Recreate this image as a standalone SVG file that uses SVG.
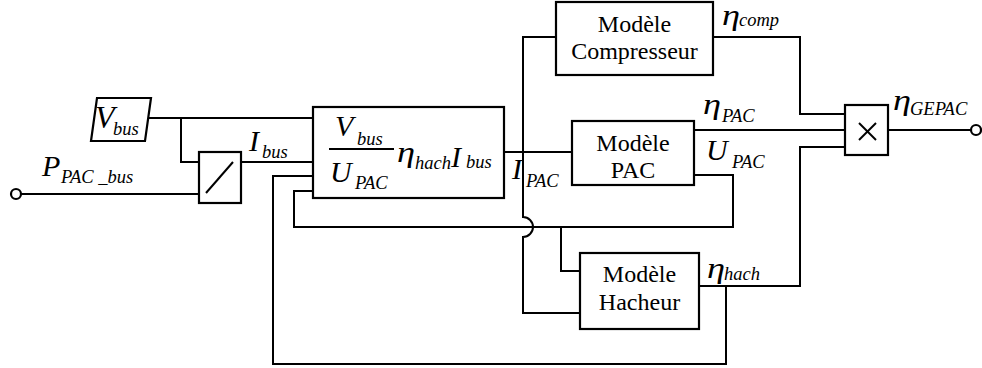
<svg xmlns="http://www.w3.org/2000/svg" width="982" height="368" viewBox="0 0 982 368">
  <style>
    .box { fill: #fff; stroke: #000; stroke-width: 2.2; }
    .wire { fill: none; stroke: #000; stroke-width: 2; }
    .name { font-family: "Liberation Serif", "Times New Roman", serif; font-size: 24px; fill: #000; text-anchor: middle; }
    .sym { font-family: "Liberation Serif", "Times New Roman", serif; font-style: italic; font-size: 30px; fill: #000; }
    .eta { font-family: "Liberation Serif", "Times New Roman", serif; font-style: italic; font-size: 29px; fill: #000; }
    .sub { font-family: "Liberation Serif", "Times New Roman", serif; font-style: italic; font-size: 18.5px; fill: #000; }
  </style>

  <rect width="982" height="368" fill="#fff"/>

  <!-- connectors -->
  <g id="connectors">
    <!-- P_PAC_bus input to divider -->
    <line class="wire" x1="21" y1="194" x2="199" y2="194"/>
    <!-- V_bus to main block, with tap to divider -->
    <line class="wire" x1="147" y1="118" x2="313" y2="118"/>
    <polyline class="wire" points="181,118 181,162 199,162"/>
    <!-- I_bus -->
    <line class="wire" x1="241" y1="162" x2="313" y2="162"/>
    <!-- I_PAC from main block to PAC model -->
    <line class="wire" x1="504" y1="152" x2="572" y2="152"/>
    <!-- I_PAC bus: compressor, PAC crossing, hop, hacheur -->
    <path class="wire" d="M556,37 H523 V217 A10,10 0 0 1 523,237 V313 H580"/>
    <!-- U_PAC feedback to main block and hacheur -->
    <path class="wire" d="M694,175 H733 V227 H294 V191 H313"/>
    <polyline class="wire" points="561,227 561,271 580,271"/>
    <!-- eta_comp to multiplier -->
    <polyline class="wire" points="713,37 800,37 800,114 845,114"/>
    <!-- eta_PAC to multiplier -->
    <line class="wire" x1="694" y1="130" x2="845" y2="130"/>
    <!-- eta_hach to multiplier and back to main block -->
    <polyline class="wire" points="699,286 800,286 800,147 845,147"/>
    <polyline class="wire" points="726,286 726,364 273,364 273,176 313,176"/>
    <!-- eta_GEPAC output -->
    <line class="wire" x1="888" y1="130" x2="971" y2="130"/>
  </g>

  <!-- input terminal -->
  <g id="in-terminal">
    <circle class="box" cx="16" cy="194" r="5"/>
  </g>

  <!-- V_bus source -->
  <g id="vbus">
    <polygon class="box" points="97,98 151,98 145,141 91,141"/>
    <text class="sym" x="95" y="128" style="font-size:32px">V</text>
    <text class="sub" x="113" y="135">bus</text>
  </g>

  <!-- divider -->
  <g id="divider">
    <rect class="box" x="199" y="152" width="42" height="51"/>
    <line class="wire" x1="206" y1="193" x2="233" y2="162"/>
  </g>

  <!-- main converter block -->
  <g id="main-block">
    <rect class="box" x="313" y="107" width="191" height="91"/>
    <text class="sym" x="335" y="136">V</text>
    <text class="sub" x="357" y="145">bus</text>
    <line class="wire" x1="329" y1="149" x2="394" y2="149"/>
    <text class="sym" x="330" y="182">U</text>
    <text class="sub" x="355" y="189">PAC</text>
    <text class="eta" x="397" y="162" textLength="18" lengthAdjust="spacingAndGlyphs">η</text>
    <text class="sub" x="415" y="169">hach</text>
    <text class="sym" x="451" y="167">I</text>
    <text class="sub" x="466" y="168">bus</text>
  </g>

  <!-- compressor model -->
  <g id="compresseur">
    <rect class="box" x="556" y="2" width="157" height="73"/>
    <text class="name" x="634.5" y="32">Modèle</text>
    <text class="name" x="634.5" y="59">Compresseur</text>
  </g>

  <!-- fuel cell model -->
  <g id="pac">
    <rect class="box" x="572" y="121" width="122" height="64"/>
    <text class="name" x="633" y="151">Modèle</text>
    <text class="name" x="633" y="178">PAC</text>
  </g>

  <!-- chopper model -->
  <g id="hacheur">
    <rect class="box" x="580" y="253" width="119" height="76"/>
    <text class="name" x="639.5" y="282">Modèle</text>
    <text class="name" x="639.5" y="310">Hacheur</text>
  </g>

  <!-- multiplier -->
  <g id="multiplier">
    <rect class="box" x="845" y="105" width="43" height="50"/>
    <line class="wire" x1="859" y1="123" x2="876" y2="140"/>
    <line class="wire" x1="876" y1="123" x2="859" y2="140"/>
  </g>

  <!-- output terminal -->
  <g id="out-terminal">
    <circle class="box" cx="976" cy="130" r="5"/>
  </g>

  <!-- signal labels -->
  <g id="labels">
    <text class="sym" x="42" y="176">P</text>
    <text class="sub" x="61" y="183">PAC _bus</text>
    <text class="sym" x="249" y="151">I</text>
    <text class="sub" x="262" y="158">bus</text>
    <text class="sym" x="512" y="179">I</text>
    <text class="sub" x="526" y="187">PAC</text>
    <text class="eta" x="722" y="25" textLength="18" lengthAdjust="spacingAndGlyphs">η</text>
    <text class="sub" x="739" y="26">comp</text>
    <text class="eta" x="703" y="114" textLength="18" lengthAdjust="spacingAndGlyphs">η</text>
    <text class="sub" x="722" y="122">PAC</text>
    <text class="sym" x="706" y="160">U</text>
    <text class="sub" x="732" y="168">PAC</text>
    <text class="eta" x="893" y="110" textLength="18" lengthAdjust="spacingAndGlyphs">η</text>
    <text class="sub" x="910" y="115">GEPAC</text>
    <text class="eta" x="707" y="278" textLength="18" lengthAdjust="spacingAndGlyphs">η</text>
    <text class="sub" x="724" y="280">hach</text>
  </g>
</svg>
